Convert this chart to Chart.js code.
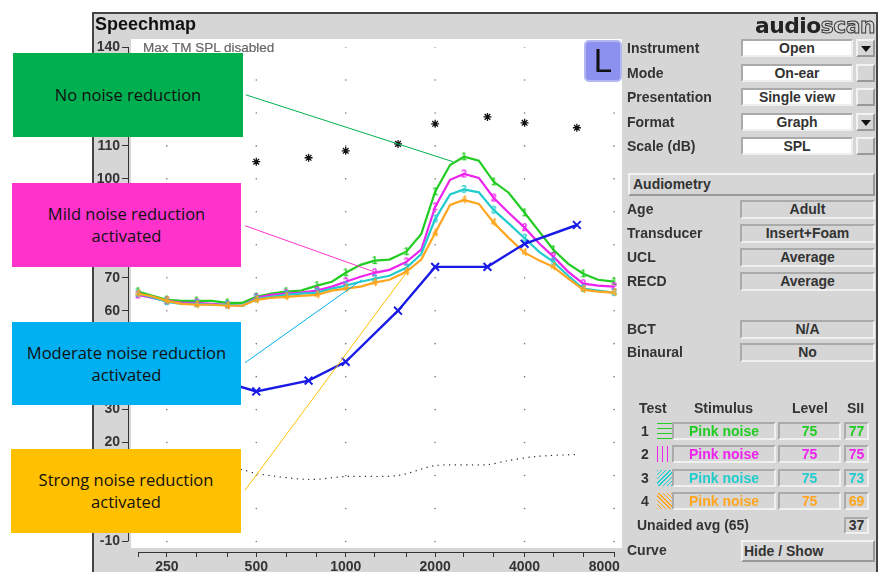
<!DOCTYPE html>
<html>
<head>
<meta charset="utf-8">
<title>Speechmap</title>
<style>
  html, body { margin: 0; padding: 0; background: #fff; overflow: hidden; }
  body { width: 882px; height: 572px; position: relative; font-family: "Liberation Sans", sans-serif; color: #333; }
  #panel { position: absolute; left: 92px; top: 12px; width: 782px; height: 560px; background: #d6d6d6; border: solid #444; border-width: 2px 2px 0 2px; box-sizing: content-box; }
  #plotBg { position: absolute; left: 131px; top: 39px; width: 491px; height: 509px; background: #fff; }
  canvas { position: absolute; left: 0; top: 0; }
  .abs { position: absolute; white-space: nowrap; }
  .label { font-size: 14px; font-weight: bold; transform: translateY(-50%); color: #333; }
  .box { position: absolute; box-sizing: border-box; text-align: center; font-size: 14px; font-weight: bold; border: 2px solid; }
  .white { background: #fff; border-color: #aaa #eee #eee #aaa; }
  .sunk { background: #d6d6d6; border-color: #aaa #f0f0f0 #f0f0f0 #aaa; }
  .btn { background: #d6d6d6; border-color: #f2f2f2 #999 #999 #f2f2f2; }
  .callout { position: absolute; display: flex; align-items: center; justify-content: center; text-align: center; font-family: "Open Sans", sans-serif; font-size: 16.5px; line-height: 22px; color: #111; }
</style>
</head>
<body>
<div id="panel"></div>
<div id="plotBg"></div>
<canvas id="chart" width="882" height="572"></canvas>
<div id="ui"></div>
<script src="https://cdn.jsdelivr.net/npm/chart.js@4"></script>
<script>
// ======= Data =======
const freqs = [200,224,250,281,315,354,400,449,500,561,630,707,800,898,1000,1122,1250,1403,1600,1796,2000,2245,2500,2806,3150,3536,4000,4490,5000,5612,6300,7071,8000];
const test1 = [65.8,64.5,63.3,63.0,63.0,63.0,62.4,62.4,64.2,65.2,65.8,66.1,67.6,68.8,71.5,73.9,75.2,75.5,77.9,83.3,96.1,104.2,106.7,105.5,99.1,95.8,89.7,83.9,78.5,74.2,71.2,69.4,68.8];
const test2 = [64.8,63.9,63.0,62.4,62.4,62.1,61.8,61.5,63.9,64.8,65.2,65.5,66.1,67.3,68.8,70.3,71.5,72.4,74.8,78.5,91.5,99.7,101.5,100.3,94.2,89.7,85.2,80.3,76.4,71.8,68.2,67.6,67.3];
const test3 = [65.2,64.0,62.7,62.1,62.1,61.8,61.8,61.5,63.6,64.2,64.8,65.2,65.5,66.7,67.6,68.8,69.7,70.6,73.0,77.2,87.8,95.3,96.8,95.9,90.5,86.5,82.0,77.8,74.8,70.6,66.7,66.1,65.5];
const test4 = [65.2,64.3,63.0,62.1,61.8,61.8,61.5,61.5,63.3,63.9,64.2,64.5,64.8,66.1,66.7,67.3,68.5,69.4,71.8,75.5,83.6,92.1,93.6,92.4,86.7,82.1,77.6,75.2,73.3,69.7,66.4,65.8,65.5];

const audioFreqs = [250,500,750,1000,1500,2000,3000,4000,6000];
const thresholds = [43.6,35.5,38.8,44.5,60,73.3,73.3,80.3,86];
const uclFreqs = [500,750,1000,1500,2000,3000,4000,6000];
const uclValues = [105.2,106.4,108.5,110.6,116.7,118.8,117,115.5];
const unaidedFreqs = [250,447,500,750,1000,1500,2000,3000,3500,4400,6000];
const unaidedValues = [14,11.8,10.6,8.8,9.7,10,13,13.3,14.5,15.8,16.4];

const xTicks = [200,250,315,400,500,630,800,1000,1250,1600,2000,2500,3150,4000,5000,6300,8000];
const xLabels = [250,500,1000,2000,4000,8000];
const yTicks = [140,130,120,110,100,90,80,70,60,50,40,30,20,10,0,-10];

const colors = ["#22cc22","#ee22ee","#22cccc","#ffa51e"];

// callout leader lines, in Hz / dB
const leaders = [
  { color: "#00b050", pts: [[461,125.5],[2296,105.2]] },
  { color: "#ff33cc", pts: [[458,85.8],[1273,71.5]] },
  { color: "#00b0f0", pts: [[458,44.2],[1134,69.4]] },
  { color: "#ffc000", pts: [[458,5.5],[1607,71.8]] }
];

// ======= Digit markers for the test curves =======
function digitMark(d, color) {
  const c = document.createElement("canvas");
  c.width = 9; c.height = 11;
  const g = c.getContext("2d");
  g.fillStyle = color;
  g.font = "bold 10px 'Liberation Sans'";
  g.textAlign = "center";
  g.textBaseline = "middle";
  g.fillText(d, 4.5, 6);
  return c;
}

function testCurve(values, i) {
  return {
    data: freqs.map((f, k) => ({ x: f, y: values[k] })),
    borderColor: colors[i],
    borderWidth: 2.2,
    pointStyle: digitMark(String(i + 1), colors[i]),
    pointRadius: ctx => (ctx.dataIndex % 2 === 0 ? 4 : 0),
    clip: false,
    order: 8 - i
  };
}

// ======= Chart =======
const gridDots = [];
xLabels.forEach(x => yTicks.forEach(y => gridDots.push({ x: x, y: y })));

const axisLines = {
  id: "axisLines",
  afterDraw(chart) {
    const g = chart.ctx, sx = chart.scales.x, sy = chart.scales.y;
    g.save();
    g.strokeStyle = "#333";
    g.lineWidth = 1;
    g.beginPath();
    g.moveTo(sx.getPixelForValue(xTicks[0]), sx.top + 0.5);
    g.lineTo(sx.getPixelForValue(xTicks[xTicks.length - 1]), sx.top + 0.5);
    g.moveTo(sy.right + 0.5, sy.getPixelForValue(yTicks[0]));
    g.lineTo(sy.right + 0.5, sy.getPixelForValue(yTicks[yTicks.length - 1]));
    g.stroke();
    g.restore();
  }
};

new Chart(document.getElementById("chart"), {
  type: "line",
  plugins: [axisLines],
  data: {
    datasets: [
      { data: gridDots, showLine: false, pointRadius: 0.8, pointBackgroundColor: "#777", pointBorderWidth: 0, order: 20 },
      { data: uclFreqs.map((f, k) => ({ x: f, y: uclValues[k] })), showLine: false, pointStyle: "star", pointRadius: 4, pointBorderColor: "#111", pointBorderWidth: 1.3, order: 10 },
      { data: unaidedFreqs.map((f, k) => ({ x: f, y: unaidedValues[k] })), borderColor: "#222", borderWidth: 1.2, borderDash: [1.2, 4.5], tension: 0.3, pointRadius: 0, order: 10 },
      testCurve(test1, 0),
      testCurve(test2, 1),
      testCurve(test3, 2),
      testCurve(test4, 3),
      { data: audioFreqs.map((f, k) => ({ x: f, y: thresholds[k] })), borderColor: "#1a1ae6", borderWidth: 2.4, pointStyle: "crossRot", pointRadius: 5.5, pointBorderColor: "#1a1ae6", pointBorderWidth: 2, order: 2 },
      ...leaders.map(l => ({
        data: l.pts.map(p => ({ x: p[0], y: p[1] })),
        borderColor: l.color, borderWidth: 1, pointRadius: 0, order: 1
      }))
    ]
  },
  options: {
    responsive: false,
    animation: false,
    layout: { padding: { left: 92, top: 47, right: 262, bottom: 0 } },
    plugins: { legend: { display: false }, tooltip: { enabled: false } },
    scales: {
      x: {
        type: "logarithmic",
        min: 185,
        max: 8380,
        afterBuildTicks: s => { s.ticks = xTicks.map(v => ({ value: v })); },
        afterFit: s => { s.height = 20; },
        border: { display: false },
        grid: { drawOnChartArea: false, tickLength: 5, tickColor: "#333" },
        ticks: {
          autoSkip: false,
          maxRotation: 0,
          padding: 2,
          color: "#333",
          font: { family: "Liberation Sans", size: 14, weight: "bold" },
          // 8000 sits left of its tick in the original, trailing spaces push it over
          callback: v => (v === 8000 ? "8000     " : xLabels.includes(v) ? String(v) : "")
        }
      },
      y: {
        min: -13.2,
        max: 140,
        afterBuildTicks: s => { s.ticks = yTicks.map(v => ({ value: v })); },
        afterFit: s => { s.width = 36; },
        border: { display: false },
        grid: { drawOnChartArea: false, tickLength: 6, tickColor: "#333" },
        ticks: {
          autoSkip: false,
          padding: 2,
          color: "#333",
          font: { family: "Liberation Sans", size: 14, weight: "bold" },
          callback: v => String(v)
        }
      }
    }
  }
});

// ======= Side panel =======
const ui = document.getElementById("ui");

function put(html) {
  ui.insertAdjacentHTML("beforeend", html);
}
function label(text, x, y, extra) {
  put(`<div class="abs label" style="left:${x}px;top:${y}px;${extra || ""}">${text}</div>`);
}
function box(cls, text, x, y, w, h, extra) {
  put(`<div class="box ${cls}" style="left:${x}px;top:${y}px;width:${w}px;height:${h}px;line-height:${h - 4}px;${extra || ""}">${text}</div>`);
}

const selectRows = [["Instrument","Open",true],["Mode","On-ear",false],["Presentation","Single view",false],["Format","Graph",true],["Scale (dB)","SPL",false]];
const selectY = [48,73,97,122,146];
selectRows.forEach((r, i) => {
  const y = selectY[i];
  label(r[0], 627, y);
  box("white", r[1], 741, y - 9, 112, 18);
  box("btn", r[2] ? "<span style='display:inline-block;width:0;height:0;border:5px solid transparent;border-top:6px solid #111;margin-top:5px'></span>" : "", 856, y - 9, 19, 18, "line-height:10px;");
});

box("btn", "Audiometry", 628, 173, 247, 23, "text-align:left;padding-left:3px;font-size:14px;");

const infoRows = [["Age","Adult",209],["Transducer","Insert+Foam",233],["UCL","Average",257],["RECD","Average",281],["BCT","N/A",329],["Binaural","No",352]];
infoRows.forEach(r => {
  label(r[0], 627, r[2]);
  box("sunk", r[1], 740, r[2] - 9, 135, 19);
});

// ======= Test table =======
label("Test", 639, 408);
label("Stimulus", 694, 408);
label("Level", 792, 408);
label("SII", 847, 408);

const testStimulus = ["Pink noise","Pink noise","Pink noise","Pink noise"];
const testLevel = [75,75,75,75];
const testSII = [77,75,73,69];
const testY = [431,454,478,501];
const swatches = [
  "repeating-linear-gradient(0deg,#22cc22 0 1px,transparent 1px 5px)",
  "repeating-linear-gradient(90deg,#ee22ee 0 1px,transparent 1px 5px)",
  "repeating-linear-gradient(135deg,#22cccc 0 1px,transparent 1px 3px)",
  "repeating-linear-gradient(45deg,#ffa51e 0 1px,transparent 1px 3px)"
];
testY.forEach((y, i) => {
  const c = "color:" + colors[i] + ";";
  label(String(i + 1), 641, y);
  put(`<div class="abs" style="left:657px;top:${y - 8}px;width:15px;height:16px;background:${swatches[i]}"></div>`);
  box("sunk", testStimulus[i], 672, y - 9, 104, 18, c);
  box("sunk", testLevel[i], 778, y - 9, 63, 18, c);
  box("sunk", testSII[i], 844, y - 9, 25, 18, c);
});

label("Unaided avg (65)", 637, 525);
box("sunk", "37", 844, 517, 25, 17);
label("Curve", 627, 550);
box("btn", "Hide / Show", 741, 540, 134, 22, "text-align:left;padding-left:1px;");

// ======= Title, logo, badge =======
label("Speechmap", 95, 24, "font-size:18px;color:#111;");
label("Max TM SPL disabled", 143, 47, "font-weight:normal;font-size:13.5px;color:#666;-webkit-text-stroke:0.2px #666;");
put(`<div class="abs" style="left:755px;top:13px;font-family:'DejaVu Sans';font-weight:bold;font-size:21.8px;letter-spacing:-0.5px;color:#222;line-height:26px;">audio<span style="color:#d6d6d6;-webkit-text-stroke:1px #333;">scan</span></div>`);
put(`<div class="abs" style="left:584px;top:40px;width:38px;height:42px;box-sizing:border-box;border-radius:5px;background:#8c90ee;border:2px solid #b4b8f2;color:#111;font-size:33px;text-align:center;line-height:38px;">L</div>`);

// ======= Callouts =======
const callouts = [
  ["No noise reduction", "#00b050", 13, 53, 230, 84],
  ["Mild noise reduction<br>activated", "#ff33cc", 12, 183, 229, 84],
  ["Moderate noise reduction<br>activated", "#00b0f0", 12, 322, 229, 83],
  ["Strong noise reduction<br>activated", "#ffc000", 11, 449, 230, 84]
];
callouts.forEach(c => {
  put(`<div class="callout" style="left:${c[2]}px;top:${c[3]}px;width:${c[4]}px;height:${c[5]}px;background:${c[1]};">${c[0]}</div>`);
});
</script>
</body>
</html>
